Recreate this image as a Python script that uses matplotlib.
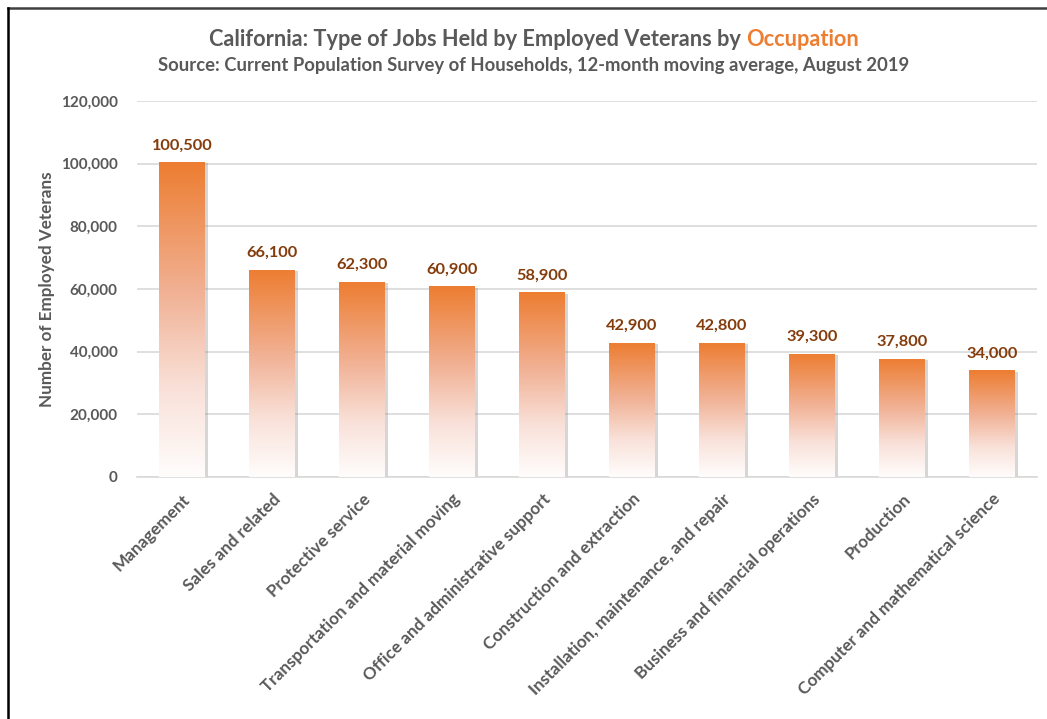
import matplotlib
matplotlib.use("Agg")
import matplotlib.pyplot as plt
import numpy as np
from matplotlib.colors import LinearSegmentedColormap
from matplotlib import patheffects as pe
from matplotlib.lines import Line2D

categories = ["Management", "Sales and related", "Protective service",
              "Transportation and material moving", "Office and administrative support",
              "Construction and extraction", "Installation, maintenance, and repair",
              "Business and financial operations", "Production",
              "Computer and mathematical science"]
values = [100500, 66100, 62300, 60900, 58900, 42900, 42800, 39300, 37800, 34000]
yticks = [0, 20000, 40000, 60000, 80000, 100000, 120000]

title_main = "California: Type of Jobs Held by Employed Veterans by "
title_hl = "Occupation"
subtitle = "Source: Current Population Survey of Households, 12-month moving average, August 2019"
ylabel = "Number of Employed Veterans"

FONT = "Lato"
GREY = "#595959"
ORANGE = "#ED7D31"
LABEL = "#843C0C"

fig = plt.figure(figsize=(10.47, 7.19), dpi=100)
ax = fig.add_axes([137/1047, 1-477/719, 900/1047, (477-101)/719])

x = np.arange(len(categories))
bars = ax.bar(x, values, width=0.51, color="white", zorder=2,
              path_effects=[pe.SimplePatchShadow(offset=(2.0, -1.0), shadow_rgbFace="#8a8a8a", alpha=0.35),
                            pe.Normal()])

cmap = LinearSegmentedColormap.from_list("g", [(0, ORANGE), (0.42, "#F1B296"),
                                              (0.72, "#F9E1D9"), (1.0, "#FFFDFC")])
grad = np.linspace(0, 1, 256).reshape(-1, 1)
for b in bars:
    x0, w, h = b.get_x(), b.get_width(), b.get_height()
    im = ax.imshow(grad, cmap=cmap, extent=[x0, x0 + w, 0, h], origin="upper",
                   aspect="auto", zorder=3, interpolation="bilinear")
    im.set_clip_path(b)

for xi, v in zip(x, values):
    ax.annotate(f"{v:,}", (xi, v), xytext=(0, 7), textcoords="offset points",
                ha="center", va="bottom", fontsize=11.8, fontweight="bold",
                color=LABEL, family=FONT, zorder=4)

ax.set_xlim(-0.5, len(categories) - 0.5)
ax.set_ylim(0, 120000)
ax.set_yticks(yticks)
ax.set_yticklabels([f"{t:,}" for t in yticks], fontsize=11, fontweight="bold",
                   color=GREY, family=FONT)
ax.set_xticks(x)
ax.set_xticklabels(categories, rotation=45, ha="right", rotation_mode="anchor",
                   fontsize=12.3, color=GREY, family=FONT, fontweight="bold")
ax.tick_params(axis="both", length=0)
ax.tick_params(axis="y", pad=14)
ax.tick_params(axis="x", pad=10)
ax.grid(axis="y", color="#D9D9D9", linewidth=1.2, zorder=0)
ax.set_axisbelow(True)
for s in ["top", "right", "left"]:
    ax.spines[s].set_visible(False)
ax.spines["bottom"].set_color("#D9D9D9")
ax.spines["bottom"].set_linewidth(1.2)

ax.set_ylabel(ylabel, fontsize=12.3, fontweight="bold", color=GREY, family=FONT, labelpad=4)

# Title with highlighted word
fig.canvas.draw()
r = fig.canvas.get_renderer()
t1 = fig.text(0, 1 - 39/719, title_main, fontsize=15.7, fontweight="bold", color=GREY,
              family=FONT, ha="left", va="center")
t2 = fig.text(0, 1 - 39/719, title_hl, fontsize=15.7, fontweight="bold", color=ORANGE,
              family=FONT, ha="left", va="center")
w1 = t1.get_window_extent(r).width
w2 = t2.get_window_extent(r).width
cx = 534
start = cx - (w1 + w2) / 2
t1.set_x(start / 1047)
t2.set_x((start + w1) / 1047)
fig.text(534/1047, 1 - 65/719, subtitle, fontsize=13.3, fontweight="bold", color=GREY,
         family=FONT, ha="center", va="center")

# Border lines
fig.add_artist(Line2D([7.5/1047, 1], [1 - 7.5/719, 1 - 7.5/719], color="#404040", lw=1.8,
                      transform=fig.transFigure))
fig.add_artist(Line2D([7.5/1047, 7.5/1047], [0, 1 - 7.5/719], color="#000000", lw=1.8,
                      transform=fig.transFigure))

fig.savefig("out.png", dpi=100, facecolor="white")
